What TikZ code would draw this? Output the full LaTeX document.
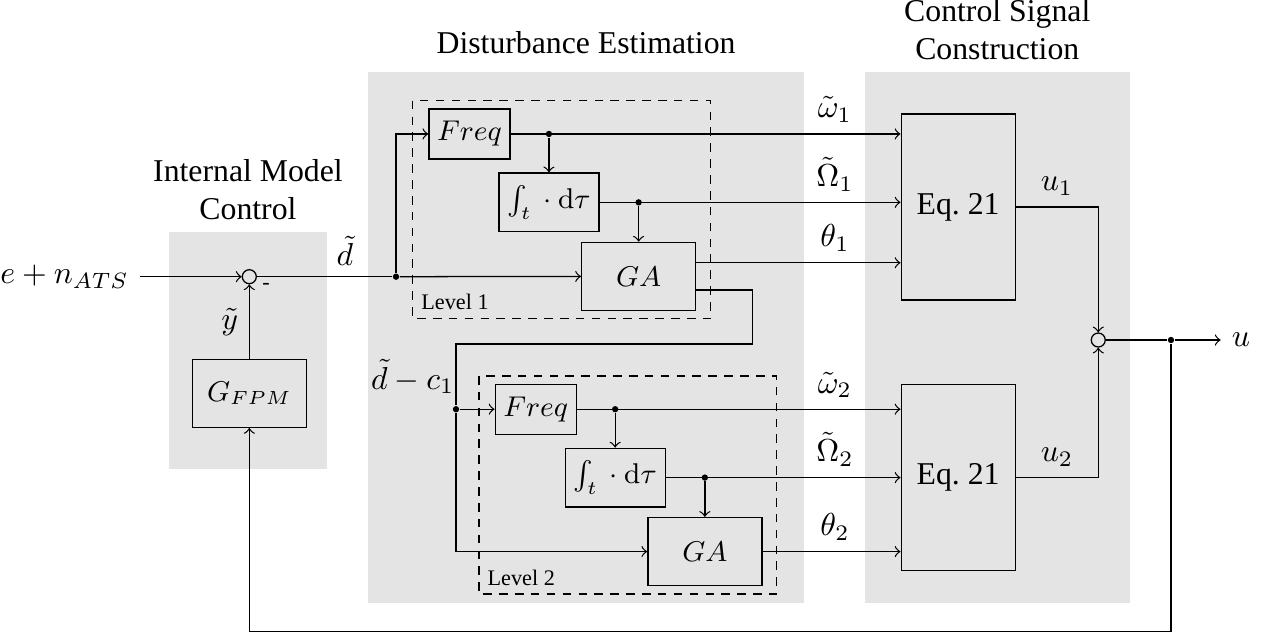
\documentclass[tikz,border=0pt]{standalone}
\usepackage[no-math]{fontspec}
\setmainfont{Liberation Serif}
\usepackage{amsmath}
\definecolor{panelgray}{HTML}{E4E4E4}
\usetikzlibrary{positioning, calc}

\begin{document}
\begin{tikzpicture}[
  panel/.style={fill=panelgray, draw=none, inner sep=0pt},
  title/.style={align=center},
  block/.style={draw, minimum width=1.262cm, minimum height=0.753cm,
    inner sep=0pt},
  mathblock/.style={block, font=\small},
  sumnode/.style={draw, circle, inner sep=0pt, minimum size=4.4pt},
  junction/.style={circle, fill, inner sep=0pt, minimum size=2pt},
  level/.style={draw, dash pattern=on 2.7pt off 2.3pt},
  lvlabel/.style={font=\scriptsize, anchor=south west, inner sep=2.5pt}
]
  \useasboundingbox (0,0) rectangle (14.026,-7.04);

  % Shaded groups and their titles
  \node[panel, minimum width=1.75cm, minimum height=2.63cm] (imcBg) at (2.745,-3.88) {};
  \node[panel, minimum width=4.835cm, minimum height=5.873cm] (deBg) at (6.4875,-3.7335) {};
  \node[panel, minimum width=2.928cm, minimum height=5.873cm] (cscBg) at (11.04,-3.7335) {};
  \node[title, above=0pt of imcBg] (imcTitle) {Internal Model\\Control};
  \node[title, above=2pt of deBg] (deTitle) {Disturbance Estimation};
  \node[title, above=0pt of cscBg] (cscTitle) {Control Signal\\Construction};

  % Internal model loop
  \coordinate (in) at (1.55,-3.063);
  \node[left] (inLabel) at (in) {$e + n_{ATS}$};
  \node[sumnode] (sumA) at (2.76,-3.063) {};
  \node[font=\scriptsize, inner sep=0pt] (minus) at (2.945,-3.166) {-};
  \node[mathblock] (gfpm) at (2.76,-4.354) {$G_{FPM}$};
  \node[junction] (dA) at (4.384,-3.063) {};
  \node[junction] (dB) at (5.048,-4.53) {};
  \node (dcLabel) at (4.57,-4.17) {$\tilde d - c_1$};

  % Levels 1 and 2
  \foreach \lv/\n/\dx/\dy in {A/1/0/0, B/2/0.733/-3.047}{
    \begin{scope}[shift={(\dx,\dy)}]
      \draw[level] (4.57,-1.115) rectangle (7.867,-3.528);
      \node[lvlabel] (lv\lv) at (4.57,-3.528) {Level \n};
      \node[mathblock, minimum width=0.897cm, minimum height=0.553cm] (freq\lv) at (5.197,-1.483) {$Freq$};
      \node[mathblock, minimum width=1.107cm, minimum height=0.65cm] (int\lv) at (6.077,-2.24) {$\int_t {}\cdot{} \mathrm{d}\tau$};
      \node[mathblock] (ga\lv) at (7.07,-3.059) {$GA$};
      \node[junction] (fj\lv) at (int\lv |- freq\lv) {};
      \node[junction] (ij\lv) at (ga\lv |- int\lv) {};
    \end{scope}
  }

  % Control signal construction
  \node[block, minimum height=2.059cm] (eqA) at (10.607,-2.291) {Eq.~21};
  \node[block, minimum height=2.059cm] (eqB) at (10.607,-5.288) {Eq.~21};
  \node[sumnode] (sumB) at (12.158,-3.764) {};
  \node[junction] (dC) at (12.963,-3.764) {};
  \coordinate (out) at (13.513,-3.764);
  \node[right] (outLabel) at (out) {$u$};

  % Connectors, level 1
  \draw[->] (in) -- (sumA);
  \draw[->] (gfpm) -- node[left] (yLabel) {$\tilde y$} (sumA);
  \draw (sumA) -- node[above, pos=0.65] (dLabel) {$\tilde d$} (dA);
  \draw[->] (dA) |- (freqA);
  \draw[->] (dA) -- (gaA);
  \draw[->] (freqA) -- (eqA.west |- freqA);
  \draw[->] (fjA) -- (intA);
  \draw[->] (intA) -- (eqA.west |- intA);
  \draw[->] (ijA) -- (gaA);
  \coordinate (gaAhi) at ([yshift=0.15cm]gaA.east);
  \coordinate (gaAlo) at ([yshift=-0.15cm]gaA.east);
  \coordinate (gaAturn) at (8.328,-3.808);
  \draw[->] (gaAhi) -- (eqA.west |- gaAhi);
  \draw (gaAlo) -| (gaAturn) -| (dB);

  % Connectors, level 2
  \draw[->] (dB) -- (freqB);
  \draw[->] (dB) |- (gaB);
  \draw[->] (freqB) -- (eqB.west |- freqB);
  \draw[->] (fjB) -- (intB);
  \draw[->] (intB) -- (eqB.west |- intB);
  \draw[->] (ijB) -- (gaB);
  \draw[->] (gaB) -- (eqB.west |- gaB);

  % Signal labels between the groups
  \coordinate (lblx) at (9.243,0);
  \node[above] (wA) at (freqA -| lblx) {$\tilde\omega_1$};
  \node[above] (OmA) at (intA -| lblx) {$\tilde\Omega_1$};
  \node[above] (thA) at (gaAhi -| lblx) {$\theta_1$};
  \node[above] (wB) at (freqB -| lblx) {$\tilde\omega_2$};
  \node[above] (OmB) at (intB -| lblx) {$\tilde\Omega_2$};
  \node[above] (thB) at (gaB -| lblx) {$\theta_2$};

  % Output and feedback
  \draw[->] (eqA) -| node[above, pos=0.25] (uA) {$u_1$} (sumB);
  \draw[->] (eqB) -| node[above, pos=0.25] (uB) {$u_2$} (sumB);
  \draw (sumB) -- (dC);
  \draw[->] (dC) -- (out);
  \coordinate (fbCorner) at (12.963,-6.993);
  \draw[->] (dC) -- (fbCorner) -| (gfpm);
\end{tikzpicture}
\end{document}
